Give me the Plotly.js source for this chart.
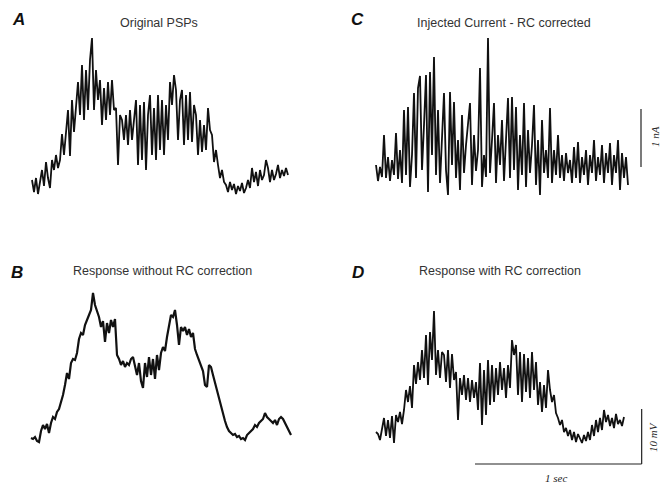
<!DOCTYPE html>
<html>
<head>
<meta charset="utf-8">
<script src="https://cdn.plot.ly/plotly-3.0.1.min.js"></script>
<style>html,body{margin:0;padding:0;background:#fff;}#plot{width:668px;height:485px;}</style>
</head>
<body>
<div id="plot"></div>
<script>
// Sampling interval of the traces (s)
const dt = 0.012;

// A: Original PSPs (amplitude, a.u.)
const ampA = [20,8,22,6,18, 30,14,38,22, 12, 40,30,45,32,40, 66,45,70, 90,44,
  100,68,96, 118,85, 135,80,130,90, 140, 162, 90,130,100, 120,75,112,80,
  118,85,120,90, 92,35,85, 80,60,85,55, 90,60,78, 100,35,95,40, 98,30,85,
  105,45,92,40,105,50, 100,45,95,60, 118,95,125, 110,60,100,
  110,55,105,60,108,58,95, 85,45,80,48,75,50, 92,70, 65,38,50, 35,22,30,18,
  15,8,18,10,16,6,14,9,17,7,12, 20,12,32,18,28,14,30,20,25, 40,
  32,18,30,20,26,35,22,30,24,32,25];

// B: Response without RC correction (amplitude, a.u.)
const ampB = [7,6,8,4,3, 14,20,16, 21,12, 22,28,26,33,36, 42,50,60, 72,66,
  82,86,85,92, 106,112,110, 120,126,130, 135,152, 140,134,128, 118,124,103,
  122,112,125,118,126, 90, 86,80,84,78,82,80,86,88, 78,70,82,64,57,
  82,68,88,70,86,66,90,75, 92,98,94, 108,118, 130,128,135, 120,100,118,
  114,118,110,116,108, 112,96, 90,84,78, 74,60,58,80, 78,
  70,62,54,46,38,30,24,18, 14,12,10,11,8,9,6,7,5, 10,12,14,16,20,18,22,
  24,26,32,28, 26,24,22,25,20,26,28, 26,22,18,14,10];

// C: Injected current - RC corrected (amplitude, a.u.)
const ampC = [30,14,28,18, 60, 17,38,14,35,20, 62, 16,45,12, 85, 20, 88, 8,40,
  102, 17, 107, 119, 25, 70, 120, 3, 123, 40, 138, 20, 85, 12, 60, 102, 25, 0,
  103, 30, 93, 17, 55, 5, 80, 22, 50, 70, 92, 10, 60, 24, 45, 127, 8, 40, 18,
  157, 22, 55, 92, 12, 60, 30, 75, 14, 55, 97, 17, 98, 25, 88, 5, 60, 20, 92,
  8, 65, 22, 50, 90, 10, 55, 0, 75, 22, 45, 17, 87, 12, 45, 20, 60, 17, 40,
  14, 42, 22, 35, 12, 48, 17, 53, 12, 38, 20, 45, 10, 40, 22, 55, 14, 38, 20,
  50, 12, 42, 22, 52, 10, 40, 22, 55, 5, 42, 17, 38, 10];

// D: Response with RC correction (amplitude, a.u.)
const ampD = [18,16,10,20, 32,14,30,12,34, 7, 35,28,38,26,40, 60,48,64, 42,
  85,66,88,70, 100,72, 115,65,118, 90,139, 75,100,72,98, 95,68,100,62,
  96,70,78, 30,72, 55,75,50,72,48, 70,52,68, 40,87,25,80, 35,90,45,85,
  48,82,55,88, 60,82, 52,85,62, 110,95, 105,55,98,48, 96,58,92,52,
  98,60,88,45, 68,38,65,42, 80,60, 48,55,37, 32,25,30,18,22,
  14,20,10,18,8,16,12,7,15,9,18,10, 25,14,30,18,32,20, 40,
  28,35,24,32,22,36,26,30,24,33];

// Scale bars
const nA_units = 58;      // 1 nA in panel C units
const mV10_units = 55;    // 10 mV in panel D units
const sec_len = 1.0;      // 1 s

const W = 668, H = 485;
const px = v => v / W;
const py = v => (H - v) / H;

function tr(y, xa, ya, w) {
  return {y: y, x0: 0, dx: dt, xaxis: xa, yaxis: ya, mode: 'lines',
    line: {color: '#111', width: w}, hoverinfo: 'skip', showlegend: false};
}
const data = [tr(ampA,'x','y',1.8), tr(ampB,'x2','y2',2.2), tr(ampC,'x3','y3',1.8), tr(ampD,'x4','y4',1.8)];

function ax(d0, d1, r0, r1, anchor) {
  return {domain: [d0, d1], range: [r0, r1], visible: false, fixedrange: true, anchor: anchor};
}

const titleFont = {family: 'Liberation Sans, Arial, sans-serif', size: 12.5, color: '#333'};
const letterFont = {family: 'Liberation Sans, Arial, sans-serif', size: 17, color: '#111'};
const unitFont = {family: 'Liberation Serif, Times New Roman, serif', size: 11, color: '#222'};

function ann(text, x, y, font, extra) {
  return Object.assign({text: text, x: px(x), y: py(y), xref: 'paper', yref: 'paper',
    showarrow: false, font: font, xanchor: 'center', yanchor: 'middle'}, extra || {});
}

const barX = 1.594, barY0 = -14;

const layout = {
  width: W, height: H,
  margin: {l: 0, r: 0, t: 0, b: 0, pad: 0},
  paper_bgcolor: '#fff', plot_bgcolor: 'rgba(0,0,0,0)',
  showlegend: false,
  xaxis:  ax(px(25), px(295), -0.042, 1.578, 'y'),
  yaxis:  ax(py(205), py(30), -5, 170, 'x'),
  xaxis2: ax(px(25), px(300), -0.036, 1.614, 'y2'),
  yaxis2: ax(py(450), py(280), -5, 165, 'x2'),
  xaxis3: ax(px(370), px(650), -0.036, 1.644, 'y3'),
  yaxis3: ax(py(200), py(30), -5, 165, 'x3'),
  xaxis4: ax(px(370), px(650), -0.036, 1.644, 'y4'),
  yaxis4: ax(py(470), py(300), -20, 150, 'x4'),
  shapes: [
    {type: 'line', xref: 'x3', yref: 'y3', x0: 1.59, x1: 1.59, y0: 28, y1: 28 + nA_units,
      line: {color: '#222', width: 1.2}},
    {type: 'line', xref: 'x4', yref: 'y4', x0: barX - sec_len, x1: barX, y0: barY0, y1: barY0,
      line: {color: '#222', width: 1.2}},
    {type: 'line', xref: 'x4', yref: 'y4', x0: barX, x1: barX, y0: barY0, y1: barY0 + mV10_units,
      line: {color: '#222', width: 1.2}}
  ],
  annotations: [
    ann('<b><i>A</i></b>', 18, 20, letterFont),
    ann('<b><i>C</i></b>', 357, 20, letterFont),
    ann('<b><i>B</i></b>', 17, 272, letterFont),
    ann('<b><i>D</i></b>', 358, 272, letterFont),
    ann('Original PSPs', 159, 23, titleFont),
    ann('Injected Current - RC corrected', 504, 23, titleFont),
    ann('Response without RC correction', 162, 271, titleFont),
    ann('Response with RC correction', 500, 271, titleFont),
    ann('<i>1 nA</i>', 655, 137, unitFont, {textangle: -90}),
    ann('<i>10 mV</i>', 653, 437, unitFont, {textangle: -90}),
    ann('<i>1 sec</i>', 556, 478, unitFont)
  ]
};

Plotly.newPlot('plot', data, layout, {staticPlot: true, displayModeBar: false});
</script>
</body>
</html>
